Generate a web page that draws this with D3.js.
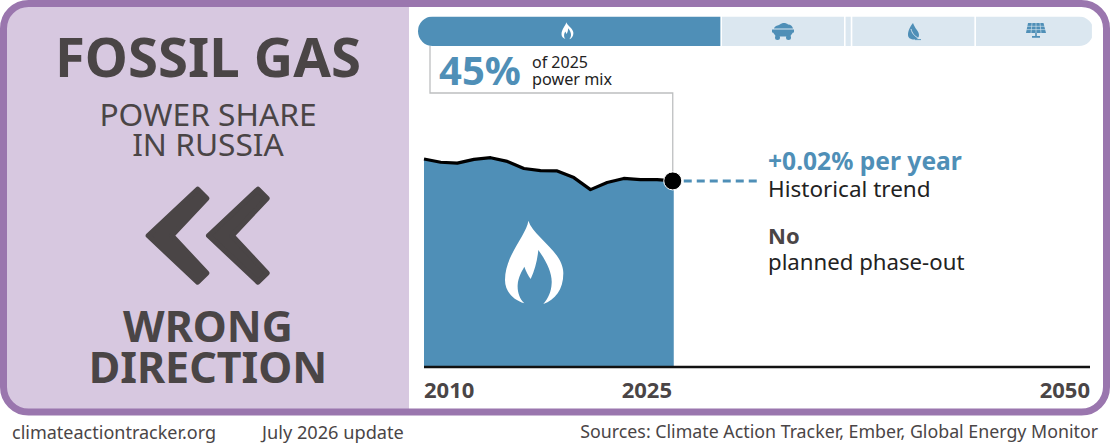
<!DOCTYPE html>
<html><head><meta charset="utf-8">
<script src="https://cdn.jsdelivr.net/npm/d3@7"></script>
<style>html,body{margin:0;padding:0;background:#fff}svg{display:block}text{font-family:"Noto Sans",sans-serif}</style>
</head><body><svg id="c" width="1110" height="444"></svg>
<script>
const years=[2010,2011,2012,2013,2014,2015,2016,2017,2018,2019,2020,2021,2022,2023,2024,2025];
const gasShare=[50.2,49.4,49.2,50.1,50.5,49.6,47.9,47.4,47.3,45.7,42.8,44.5,45.5,45.2,45.2,44.9];
const mixNames=["gas","coal","oil","renewable","solar"];
const mixValues=[45,18.3,1,18.3,17.4];
const xTicks=[2010,2025,2050];
const titleLines=["FOSSIL GAS"];
const subtitleLines=["POWER SHARE","IN RUSSIA"];
const verdictLines=["WRONG","DIRECTION"];

const BLUE="#4f8fb7",PALE="#dbe7f0",DARK="#4a4546",PURPLE="#9a76ae",LILAC="#d7c8e0";
const svg=d3.select("#c");
svg.append("rect").attr("width",1110).attr("height",444).attr("fill","#fff");
// frame
svg.append("path").attr("fill",LILAC)
 .attr("d","M409 3H28A25 25 0 0 0 3 28V387A25 25 0 0 0 28 412H409Z");
svg.append("rect").attr("x",3.5).attr("y",3.5).attr("width",1103).attr("height",408.5).attr("rx",25)
 .attr("fill","none").attr("stroke",PURPLE).attr("stroke-width",7);

const x=d3.scaleLinear().domain([2010,2050]).range([424,1090]);
const y=d3.scaleLinear().domain([0,45]).range([367,180.5]);

// area + line
svg.append("path").datum(years.map((d,i)=>[d,gasShare[i]])).attr("fill",BLUE)
 .attr("d",d3.area().x(d=>x(d[0])).y0(y(0)).y1(d=>y(d[1])));
svg.append("path").datum(years.map((d,i)=>[d,gasShare[i]])).attr("fill","none").attr("stroke","#000").attr("stroke-width",3.2).attr("stroke-linejoin","round")
 .attr("d",d3.line().x(d=>x(d[0])).y(d=>y(d[1])));

// baseline
svg.append("line").attr("x1",x(2010)).attr("x2",1090).attr("y1",y(0)).attr("y2",y(0)).attr("stroke","#111").attr("stroke-width",2.5);

// leader
const lastX=x(2025),lastY=y(gasShare[15]);
svg.append("path").attr("fill","none").attr("stroke","#bdbfc0").attr("stroke-width",1.3)
 .attr("d",`M430 46V93H${lastX-1}V${lastY}`);
svg.append("line").attr("x1",lastX+10).attr("x2",760).attr("y1",lastY).attr("y2",lastY)
 .attr("stroke",BLUE).attr("stroke-width",3).attr("stroke-dasharray","8 5");
svg.append("circle").attr("cx",lastX-1).attr("cy",lastY).attr("r",9).attr("fill","#000").attr("stroke","#fff").attr("stroke-width",1);

// stacked bar
const total=d3.sum(mixValues);
const bx=d3.scaleLinear().domain([0,total]).range([418,1093.5]);
let cum=0;
const segs=mixValues.map((v,i)=>{const s={name:mixNames[i],x0:bx(cum),x1:bx(cum+v)};cum+=v;return s;});
const barTop=16.5,barH=29.5;
svg.append("clipPath").attr("id","bc").append("rect").attr("x",418).attr("y",barTop).attr("width",675.5).attr("height",barH).attr("rx",14.7);
svg.append("g").attr("clip-path","url(#bc)").selectAll("rect").data(segs).join("rect")
 .attr("x",d=>d.x0).attr("y",barTop).attr("width",d=>Math.max(0,d.x1-d.x0-1.6)).attr("height",barH)
 .attr("fill",(d,i)=>i==0?BLUE:PALE);

// flame icon (units from a 250-high design)
const flame="M145 47C140 90 75 150 75 225C75 260 100 285 133 295C118 280 112 260 113 240C115 215 125 200 133 185C138 200 145 212 152 222C165 195 172 165 175 135C200 170 217 205 215 235C214 260 205 280 190 297C225 285 250 255 250 205C250 140 160 95 145 47Z";
svg.append("path").attr("d",flame).attr("fill","#fff").attr("transform","translate(480 205) scale(.3333)");
svg.append("path").attr("d",flame).attr("fill","#fff").attr("transform","translate(556.4 19) scale(.068)");

// coal cart
const coal=svg.append("g").attr("fill",BLUE).attr("transform","translate(772 22.5)");
coal.append("path").attr("d","M2 6C3 3 6 3 8 2C10 0 14 0 16 2C19 2 20.5 4 21 6Z");
coal.append("path").attr("d","M0 7H22V10H21L18 14H4L1 10H0Z");
coal.append("circle").attr("cx",5.5).attr("cy",15).attr("r",2.5);
coal.append("circle").attr("cx",16.5).attr("cy",15).attr("r",2.5);
// leaf
svg.append("path").attr("fill",BLUE).attr("d","M913 23C909 28 908 32 908 35C908 38 911 39.5 914 39.5C917 39.5 919 38 919 35C919 31 915 29 913 23Z");
svg.append("path").attr("fill","none").attr("stroke",PALE).attr("stroke-width",.9).attr("d","M911 29C912 33 914 36 919 38.5");
svg.append("path").attr("fill","none").attr("stroke",BLUE).attr("stroke-width",.9).attr("d","M915 39.6H921");
// solar panel
const solar=svg.append("g").attr("transform","translate(1026 23)");
solar.append("path").attr("fill",BLUE).attr("d","M2 0H17.5L20 10H0Z");
solar.append("path").attr("stroke",PALE).attr("stroke-width",.6).attr("fill","none").attr("d","M0.8 3.3H19M0.4 6.6H19.6M6 0L5 10M10 0V10M14 0L15 10");
solar.append("path").attr("fill",BLUE).attr("d","M9.2 10H10.8V13H14V14.8H6V13H9.2Z");

function t(s,px,py,size,weight,fill,anchor){
 return svg.append("text").text(s).attr("x",px).attr("y",py).attr("font-size",size).attr("font-weight",weight).attr("fill",fill).attr("text-anchor",anchor||"start");
}
// left panel
titleLines.forEach(s=>t(s,208,77,54.5,700,DARK,"middle"));
subtitleLines.forEach((s,i)=>t(s,208,126+i*30,31.7,400,DARK,"middle"));
verdictLines.forEach((s,i)=>t(s,208,342+i*41,43,700,DARK,"middle"));
// chevrons
const chev="M203 58L230 85L125 197L230 309L203 336L55 197Z";
[0,181].forEach(dx=>svg.append("path").attr("d",chev).attr("fill",DARK).attr("stroke",DARK).attr("stroke-width",16).attr("stroke-linejoin","round")
 .attr("transform",`translate(${130+dx/3} 170) scale(.3333)`));

// callout
t("45%",439,85,40,700,BLUE);
t("of 2025",532,68,16,400,"#222");
t("power mix",532,85,16.2,400,"#222");
t("+0.02% per year",768,170,24.6,700,BLUE);
t("Historical trend",768,197,22.5,400,"#222");
t("No",768,244,22,700,DARK);
t("planned phase-out",768,270,22.2,400,"#222");

// axis labels
xTicks.forEach((d,i)=>t(String(d),i==2?1090:(i==1?672:424),398,22,700,DARK,["start","end","end"][i]));

// footer
t("climateactiontracker.org",12,439,18,400,DARK);
t("July 2026 update",262,439,18.2,400,DARK);
t("Sources: Climate Action Tracker, Ember, Global Energy Monitor",1098,438,17.8,400,DARK,"end");
</script></body></html>
